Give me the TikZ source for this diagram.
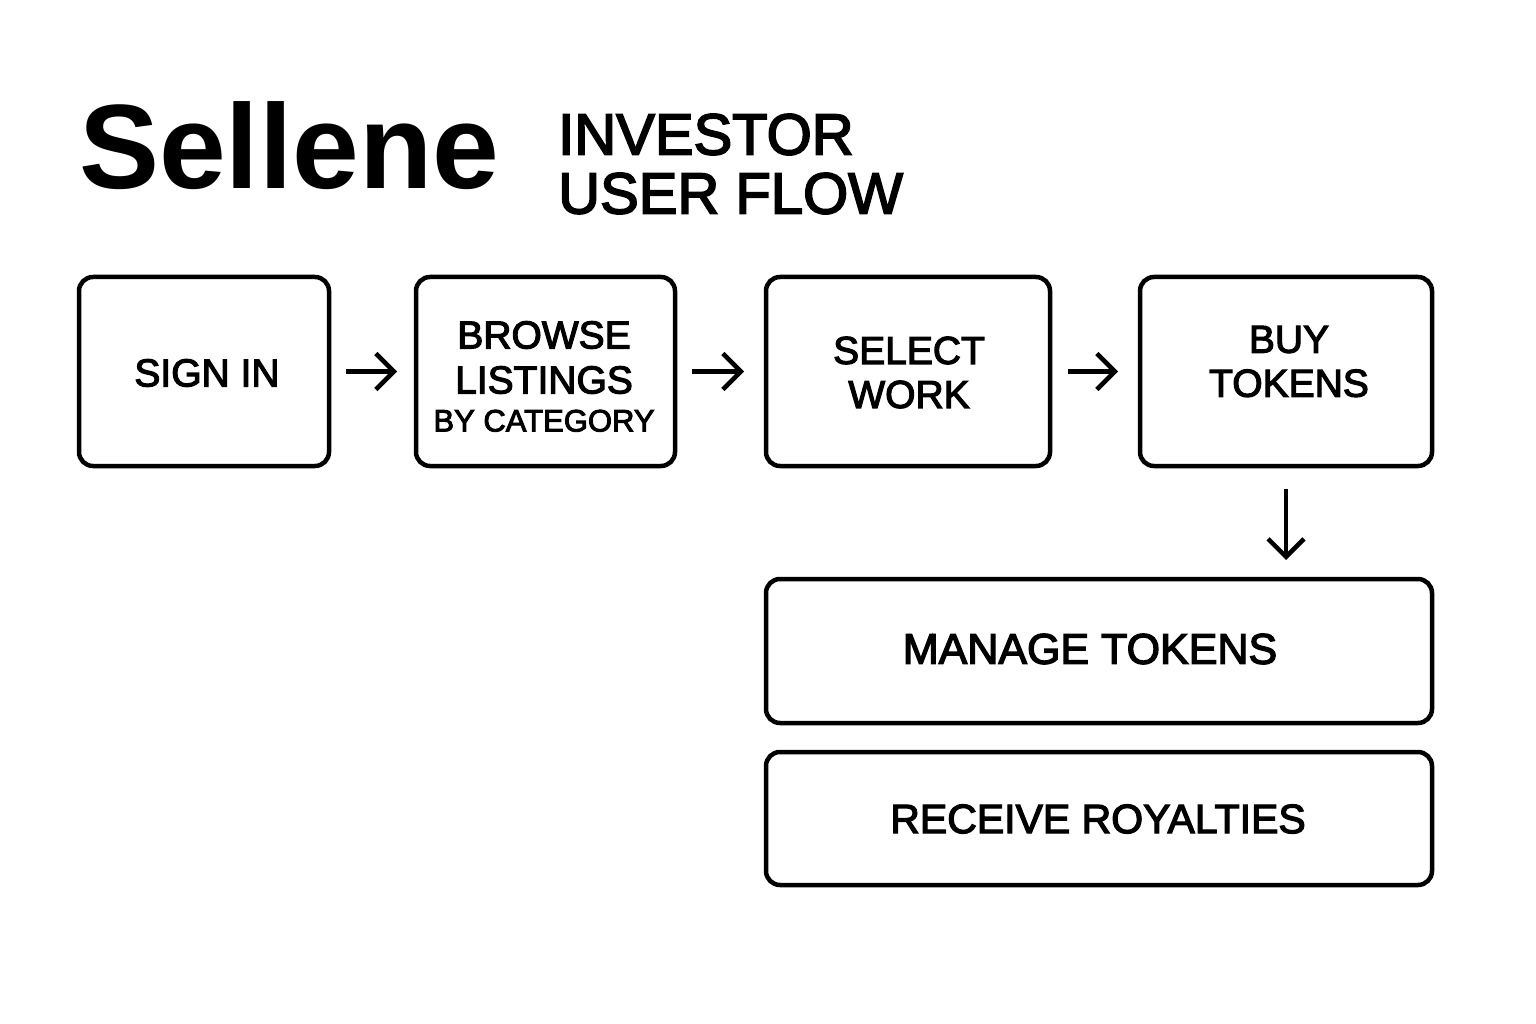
\documentclass[tikz,border=0pt]{standalone}
\usepackage{fontspec}
\setmainfont{Liberation Sans}
\newfontfamily\medfont[FakeBold=3]{Liberation Sans}
\usetikzlibrary{arrows.meta}
\begin{document}
\begin{tikzpicture}[x=1pt,y=-1pt,
  box/.style={draw=black, line width=4.5pt, rounded corners=14pt, inner sep=0pt, outer sep=0pt, fill=white},
  lbl/.style={inner sep=0pt, outer sep=0pt, align=center, font=\medfont\fontsize{39}{44}\selectfont},
  flow/.style={line width=4.5pt, -{Straight Barb[length=18pt,width=36pt]}}]
\useasboundingbox[fill=white] (0,0) rectangle (1536,1024);

% title
\node[anchor=base west, inner sep=0pt, font=\bfseries\fontsize{120}{120}\selectfont] (brand) at (79,189) {Sellene};
\node[anchor=west, inner sep=0pt, align=left, font=\medfont\fontsize{58}{59}\selectfont] (subtitle) at (558,164) {INVESTOR\\USER FLOW};

% boxes
\node[box, minimum width=250pt, minimum height=189pt] (signin) at (204,371.5) {};
\node[box, minimum width=259pt, minimum height=189pt] (browse) at (545.5,371.5) {};
\node[box, minimum width=284pt, minimum height=189pt] (select) at (908,371.5) {};
\node[box, minimum width=292pt, minimum height=189pt] (buy) at (1286,371.5) {};
\node[box, minimum width=666pt, minimum height=144pt] (manage) at (1099,651) {};
\node[box, minimum width=666pt, minimum height=133pt] (receive) at (1099,818.5) {};

% labels
\node[lbl] (tsignin) at (207,373) {SIGN IN};
\node[lbl, font=\medfont\fontsize{39}{45}\selectfont] (tbrowse) at (544,376.5) {BROWSE\\LISTINGS\\[-7pt]{\fontsize{31}{38}\selectfont BY CATEGORY}};
\node[lbl] (tselect) at (909,372.5) {SELECT\\WORK};
\node[lbl] (tbuy) at (1289,361.5) {BUY\\TOKENS};
\node[lbl, font=\medfont\fontsize{43}{48}\selectfont] (tmanage) at (1090,649) {MANAGE TOKENS};
\node[lbl, font=\medfont\fontsize{41}{46}\selectfont] (treceive) at (1098,819) {RECEIVE ROYALTIES};

% connectors
\draw[flow, shorten <=17pt, shorten >=19pt] (signin.east) -- (browse.west);
\draw[flow, shorten <=17pt, shorten >=22pt] (browse.east) -- (select.west);
\draw[flow, shorten <=18pt, shorten >=22pt] (select.east) -- (buy.west);
\draw[flow, shorten <=23pt, shorten >=19pt] (buy.south) -- (buy.south |- manage.north);
\end{tikzpicture}
\end{document}
